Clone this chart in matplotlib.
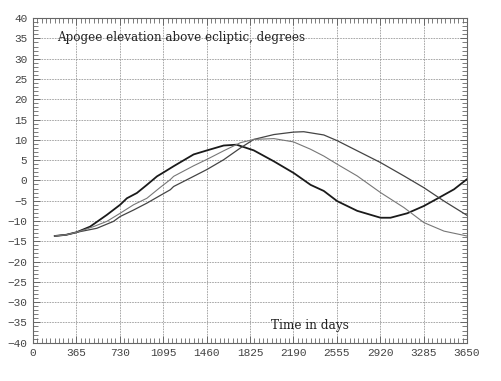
import matplotlib
matplotlib.use("Agg")
import matplotlib.pyplot as plt
from matplotlib.ticker import MultipleLocator

# curve: days and apogee elevation (degrees)
days_a = [183, 280, 365, 480, 621, 733, 790, 874, 958, 1043, 1100, 1183, 1351, 1464,
          1604, 1713, 1857, 2026, 2194, 2335, 2446, 2558, 2727, 2923, 3007, 3148,
          3288, 3400, 3541, 3650]
elev_a = [-13.7, -13.4, -12.8, -11.4, -8.5, -6.0, -4.4, -3.1, -1.1, 1.0, 2.0, 3.5, 6.4, 7.4,
          8.6, 8.8, 7.4, 4.7, 1.8, -1.1, -2.6, -5.1, -7.5, -9.2, -9.2, -8.1,
          -6.3, -4.5, -2.2, 0.3]

days_b = [183, 280, 365, 537, 677, 733, 846, 958, 1071, 1155, 1183, 1351, 1464, 1604,
          1745, 1857, 2026, 2190, 2277, 2446, 2558, 2727, 2923, 3120, 3288, 3457, 3650]
elev_b = [-13.7, -13.4, -12.8, -11.8, -10.1, -8.9, -7.3, -5.6, -3.7, -2.3, -1.5, 1.0, 2.7, 5.1,
          8.0, 10.1, 11.3, 11.9, 12.0, 11.2, 9.8, 7.3, 4.4, 1.1, -1.8, -5.1, -8.6]

days_c = [183, 280, 365, 508, 621, 733, 846, 958, 1071, 1155, 1183, 1351, 1464, 1604,
          1745, 1857, 2026, 2190, 2333, 2446, 2558, 2727, 2923, 3120, 3288, 3457, 3650]
elev_c = [-13.7, -13.4, -12.8, -11.4, -10.1, -8.1, -6.0, -4.4, -1.7, 0.2, 1.0, 3.6, 5.2, 7.3,
          9.3, 10.1, 10.3, 9.5, 7.7, 6.0, 4.0, 1.1, -3.0, -6.7, -10.4, -12.5, -13.7]

x_ticks = [0, 365, 730, 1095, 1460, 1825, 2190, 2555, 2920, 3285, 3650]
y_ticks = list(range(-40, 41, 5))

fig = plt.figure(figsize=(5.02, 3.81), dpi=100)
ax = fig.add_axes([0.0657, 0.1005, 0.8645, 0.852])

ax.plot(days_a, elev_a, color="#1a1a1a", lw=1.3)
ax.plot(days_b, elev_b, color="#444444", lw=0.9)
ax.plot(days_c, elev_c, color="#777777", lw=0.8)

ax.set_xlim(0, 3650)
ax.set_ylim(-40, 40)
ax.set_xticks(x_ticks)
ax.set_yticks(y_ticks)
ax.xaxis.set_minor_locator(MultipleLocator(36.5))
ax.yaxis.set_minor_locator(MultipleLocator(1))

ax.grid(True, which="major", color="#9a9a9a", lw=0.6, linestyle=(0, (2, 1.2)))
ax.set_axisbelow(True)

ax.tick_params(which="both", direction="in", top=True, right=True, color="#666666")
ax.tick_params(which="major", length=5, width=0.7, pad=4)
ax.tick_params(which="minor", length=3.5, width=0.6)
for lab in ax.get_xticklabels() + ax.get_yticklabels():
    lab.set_family("Liberation Mono")
    lab.set_fontsize(8)
    lab.set_color("#444444")

for sp in ax.spines.values():
    sp.set_color("#666666")
    sp.set_linewidth(0.8)

ax.text(200, 35.2, "Apogee elevation above ecliptic, degrees", family="DejaVu Serif",
        fontsize=8.6, va="center", ha="left", color="#222222")
ax.text(2000, -35.8, "Time in days", family="DejaVu Serif",
        fontsize=8.7, va="center", ha="left", color="#222222")

fig.savefig("out.png", dpi=100)
